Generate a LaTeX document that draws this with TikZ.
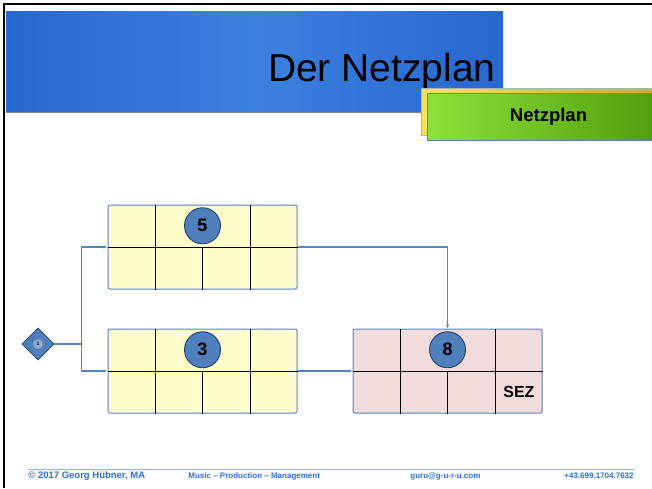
\documentclass[tikz,border=0pt]{standalone}
\usepackage{fontspec}
\setmainfont{Liberation Sans}
\usepackage{tikz}
\usetikzlibrary{positioning,calc,shapes.geometric,arrows.meta}
\definecolor{barblue}{HTML}{2767CF}
\definecolor{barlight}{HTML}{3C80DF}
\definecolor{lineblue}{HTML}{5484C4}
\definecolor{circblue}{HTML}{4F7FBC}
\definecolor{circedge}{HTML}{24406A}
\definecolor{paleyellow}{HTML}{FFFFCC}
\definecolor{palered}{HTML}{F2DCDB}
\definecolor{footblue}{HTML}{2E6FD6}
\definecolor{footline}{HTML}{8DB3E2}
\definecolor{tabgreen}{HTML}{8CE23A}
\definecolor{tabdark}{HTML}{4C9A0A}
\definecolor{tabyellow}{HTML}{F8E25A}
\definecolor{tabgold}{HTML}{D2A72C}

% inner lines of an activity box
\newcommand{\boxgrid}[1]{%
  \draw[gridline] (#1.west) -- (#1.east);
  \foreach \f in {0.25,0.75}
    \draw[gridline] ($(#1.north west)!\f!(#1.north east)$) -- ($(#1.south west)!\f!(#1.south east)$);
  \draw[gridline] (#1.center) -- (#1.south);
}

\begin{document}
\begin{tikzpicture}[x=1pt, y=-1pt, thick,
  act/.style = {draw=lineblue, line width=1pt, rounded corners=2pt, minimum width=189pt, minimum height=84pt, inner sep=0pt},
  num/.style = {draw=circedge, fill=circblue, circle, line width=0.9pt, minimum size=36pt, inner sep=0pt, font=\bfseries\fontsize{18}{18}\selectfont},
  gridline/.style = {black, line width=0.8pt},
  conn/.style = {draw=lineblue, line width=1.6pt, -{Latex[length=4pt,width=3.5pt]}},
  foot/.style = {text=footblue, anchor=west, inner sep=0pt, font=\bfseries\fontsize{8}{8}\selectfont}]
\useasboundingbox (0,0) rectangle (652,488);
\draw[line width=2pt] (4,488) -- (4,4) -- (652,4);

% title bar
\shade[left color=barblue, right color=barblue, middle color=barlight] (6,11) rectangle (503,112);
\draw[gray, line width=1pt] (6,112) -- (503,112);
\node[anchor=base east, inner sep=0pt, font=\fontsize{39}{39}\selectfont] (title) at (496,81) {Der Netzplan};
\node[draw=gray!60, left color=tabyellow, right color=tabgold, minimum width=243pt, minimum height=47pt] (back) at (542.5,111.5) {};
\node[draw=lineblue, left color=tabgreen, right color=tabdark, minimum width=243pt, minimum height=47pt, font=\bfseries\fontsize{18.5}{18.5}\selectfont] (tab) at (548.5,116.5) {Netzplan};

% activities
\node[act, fill=paleyellow] (a5) at (202.5,247) {};
\node[act, fill=paleyellow, below=39pt of a5] (a3) {};
\node[act, fill=palered, right=55pt of a3] (a8) {};
\boxgrid{a5}
\boxgrid{a3}
\boxgrid{a8}
\node[num] (n5) at ($(a5.north)!.5!(a5.center)$) {5};
\node[num] (n3) at ($(a3.north)!.5!(a3.center)$) {3};
\node[num] (n8) at ($(a8.north)!.5!(a8.center)$) {8};
\node[font=\bfseries\fontsize{16}{16}\selectfont] (sez) at ($(a8.east)!.5!(a8.south east) + (-23.6,0)$) {SEZ};

% start
\node[diamond, draw=circedge, fill=circblue, line width=0.6pt, minimum width=32pt, minimum height=32pt, inner sep=0pt] (d1) at (38,344) {};
\node[circle, draw=circedge!60, fill=circblue!65!white, line width=0.4pt, minimum size=10pt, inner sep=0pt, font=\bfseries\fontsize{5}{5}\selectfont] (s1) at (d1) {1};

\draw[draw=lineblue, line width=2.4pt] (d1.east) -- ++(27,0) coordinate (split);
\draw[conn] (split) |- (a5.west);
\draw[conn] (split) |- (a3.west);
\draw[conn] (a5.east) -| (a8.north);
\draw[conn] (a3.east) -- (a8.west);

% footer
\draw[footline, line width=0.8pt] (28,469) -- (634,469);
\node[foot, font=\bfseries\fontsize{9.5}{9.5}\selectfont] (copy) at (28,476) {© 2017 Georg Hübner, MA};
\node[foot] (music) at (188,476) {Music – Production – Management};
\node[foot] (mail) at (410,476) {guru@g-u-r-u.com};
\node[foot, anchor=east] (phone) at (634,476) {+43.699.1704.7632};
\end{tikzpicture}
\end{document}
